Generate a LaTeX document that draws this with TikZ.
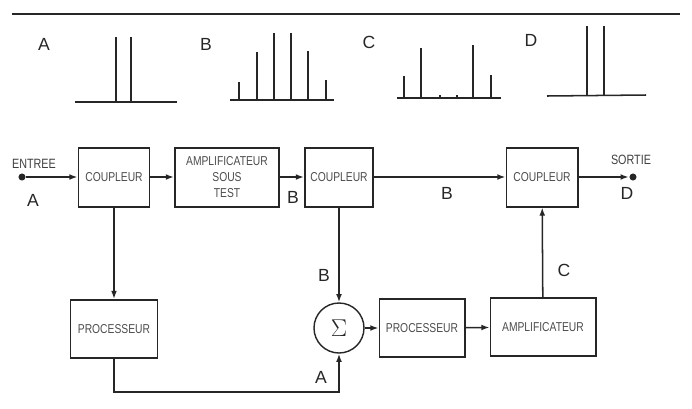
\documentclass[tikz,border=0pt]{standalone}
\usepackage{fontspec}
\setmainfont{Liberation Sans}
\newfontfamily\boxfont[FakeStretch=0.8]{Liberation Sans}
\usetikzlibrary{arrows.meta, positioning, calc}

\begin{document}
\begin{tikzpicture}[x=0.03cm, y=-0.03cm, line width=1.3pt, black!85,
    bloc/.style={draw, line width=1.7pt, minimum height=1.77cm, inner sep=1pt,
                 align=center, text=black!70,
                 font=\boxfont\fontsize{11}{13.6}\selectfont},
    sommateur/.style={draw, circle, line width=1.2pt, minimum size=1.5cm, inner sep=0pt},
    lettre/.style={font=\fontsize{15}{15}\selectfont, text=black!85},
    petit/.style={font=\boxfont\fontsize{11.5}{13}\selectfont, text=black!75},
    borne/.style={circle, fill=black!85, minimum size=6pt, inner sep=0pt},
    fleche/.style={-{Latex[length=7pt,width=5pt]}}
]
    \useasboundingbox (0,0) rectangle (692,408);
    \draw (12,14) -- (680,14);

    % spectres
    \node[lettre] (tA) at (44,44) {A};
    \draw (75,102) -- (177,102);
    \foreach \x in {116,131} \draw (\x,102) -- (\x,37);

    \node[lettre] (tB) at (206,44) {B};
    \draw (230,100) -- (334,100);
    \foreach \x/\h in {239/82, 257/52, 274/33, 291/33, 308/51, 326/80}
        \draw (\x,100) -- (\x,\h);

    \node[lettre] (tC) at (369,42) {C};
    \draw (397,98) -- (501,98);
    \foreach \x/\h in {404/76, 421/48, 440/95, 457/95, 473/45, 491/75}
        \draw (\x,98) -- (\x,\h);

    \node[lettre] (tD) at (531,40) {D};
    \draw (547,96) -- (646,95);
    \foreach \x in {587,604} \draw (\x,95.5) -- (\x,26);

    % chaine principale
    \node[borne] (entree) at (22,177) {};
    \node[bloc, minimum width=2.13cm] (cp1) at (114,177) {COUPLEUR};
    \node[bloc, minimum width=3.12cm] (ast) at (227,177) {AMPLIFICATEUR\\SOUS\\TEST};
    \node[bloc, minimum width=2.04cm] (cp2) at (339,177) {COUPLEUR};
    \node[bloc, minimum width=2.13cm] (cp3) at (542,177) {COUPLEUR};
    \node[borne] (sortie) at (633,177) {};

    \node[bloc, minimum width=2.61cm, minimum height=1.74cm] (pr1) at (114,329) {PROCESSEUR};
    \node[sommateur] (sig) at (339,328) {\huge$\Sigma$};
    \node[bloc, minimum width=2.55cm, minimum height=1.74cm] (pr2) at (422,328) {PROCESSEUR};
    \node[bloc, minimum width=3.15cm, minimum height=1.74cm] (amp) at (543,327) {AMPLIFICATEUR};

    \draw[fleche] (entree) -- (cp1);
    \draw[fleche] (cp1) -- (ast);
    \draw[fleche] (ast) -- (cp2);
    \draw[fleche] (cp2) -- (cp3);
    \draw[fleche] (cp3) -- (sortie);
    \draw[fleche] (cp1) -- (pr1);
    \draw[fleche] (cp2) -- (sig);
    \draw[fleche] (pr1.south) -- (pr1.south |- 0,392) -| (sig.south);
    \draw[fleche] (sig) -- (pr2);
    \draw[fleche] (pr2) -- (amp);
    \draw[fleche] (amp) -- (cp3);

    % etiquettes
    \node[petit] (lentree) at (34,164) {ENTREE};
    \node[lettre] (lA1) at (33,200) {A};
    \node[lettre] (lB1) at (293,197) {B};
    \node[lettre] (lB2) at (447,193) {B};
    \node[petit] (lsortie) at (631,160) {SORTIE};
    \node[lettre] (lD) at (627,193) {D};
    \node[lettre] (lB3) at (324,275) {B};
    \node[lettre] (lC) at (564,270) {C};
    \node[lettre] (lA2) at (321,377) {A};
\end{tikzpicture}
\end{document}
